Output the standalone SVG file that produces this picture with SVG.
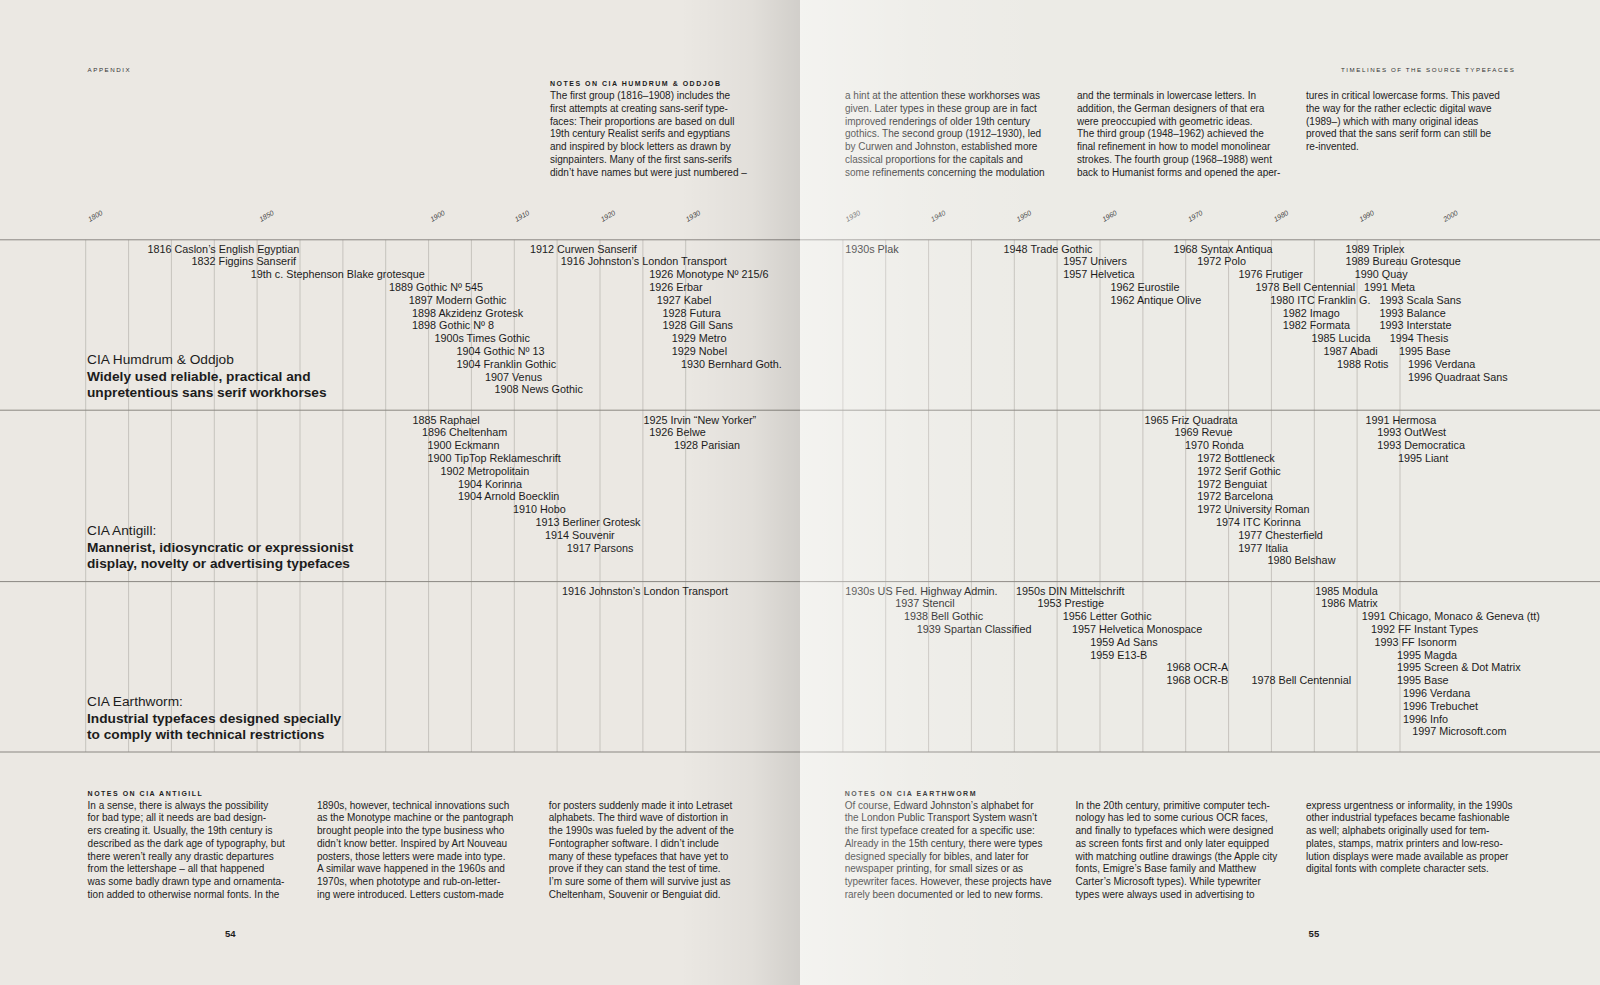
<svg xmlns="http://www.w3.org/2000/svg" width="1600" height="985" viewBox="0 0 1600 985">
<defs>
<linearGradient id="gutL" x1="0" y1="0" x2="1" y2="0"><stop offset="0" stop-color="#000" stop-opacity="0"/><stop offset="0.6" stop-color="#000" stop-opacity="0.04"/><stop offset="1" stop-color="#000" stop-opacity="0.11"/></linearGradient>
<linearGradient id="gutR" x1="0" y1="0" x2="1" y2="0"><stop offset="0" stop-color="#fff" stop-opacity="0.4"/><stop offset="0.5" stop-color="#fff" stop-opacity="0.15"/><stop offset="1" stop-color="#fff" stop-opacity="0"/></linearGradient>
<style>
text{font-family:"Liberation Sans",Arial,sans-serif;fill:#1c1c1c}
.e{font-size:10.8px}
.lab{font-size:13.7px}
.labb{font-size:13.7px;font-weight:bold}
.p{font-size:10px;fill:#222}
.h{font-size:7px;font-weight:bold;letter-spacing:1.5px}
.run{font-size:6.2px;letter-spacing:1.55px;fill:#333}
.yr{font-size:7px;font-style:italic;fill:#444}
.pg{font-size:9.5px;font-weight:bold}
.vg{stroke:#c6c3bd;stroke-width:1}
.hg{stroke:#8a8782;stroke-width:1}
</style>
</defs>
<g id="pages">
<rect x="0" y="0" width="800" height="985" fill="#ebe8e3"/>
<rect x="800" y="0" width="800" height="985" fill="#ecebe6"/>
</g>
<g id="running-heads">
<text class="run" x="87.6" y="72">APPENDIX</text>
<text class="run" x="1341" y="72">TIMELINES OF THE SOURCE TYPEFACES</text>
<text class="pg" x="225" y="936.5">54</text>
<text class="pg" x="1308.6" y="936.5">55</text>
</g>
<g id="notes-humdrum">
<text class="h" x="550" y="86.3">NOTES ON CIA HUMDRUM &amp; ODDJOB</text>
<text class="p" x="550" y="99">The first group (1816–1908) includes the</text>
<text class="p" x="550" y="111.8">first attempts at creating sans-serif type-</text>
<text class="p" x="550" y="124.6">faces: Their proportions are based on dull</text>
<text class="p" x="550" y="137.4">19th century Realist serifs and egyptians</text>
<text class="p" x="550" y="150.2">and inspired by block letters as drawn by</text>
<text class="p" x="550" y="163">signpainters. Many of the first sans-serifs</text>
<text class="p" x="550" y="175.8">didn’t have names but were just numbered –</text>
<text class="p" x="845" y="99">a hint at the attention these workhorses was</text>
<text class="p" x="845" y="111.8">given. Later types in these group are in fact</text>
<text class="p" x="845" y="124.6">improved renderings of older 19th century</text>
<text class="p" x="845" y="137.4">gothics. The second group (1912–1930), led</text>
<text class="p" x="845" y="150.2">by Curwen and Johnston, established more</text>
<text class="p" x="845" y="163">classical proportions for the capitals and</text>
<text class="p" x="845" y="175.8">some refinements concerning the modulation</text>
<text class="p" x="1077" y="99">and the terminals in lowercase letters. In</text>
<text class="p" x="1077" y="111.8">addition, the German designers of that era</text>
<text class="p" x="1077" y="124.6">were preoccupied with geometric ideas.</text>
<text class="p" x="1077" y="137.4">The third group (1948–1962) achieved the</text>
<text class="p" x="1077" y="150.2">final refinement in how to model monolinear</text>
<text class="p" x="1077" y="163">strokes. The fourth group (1968–1988) went</text>
<text class="p" x="1077" y="175.8">back to Humanist forms and opened the aper-</text>
<text class="p" x="1306" y="99">tures in critical lowercase forms. This paved</text>
<text class="p" x="1306" y="111.8">the way for the rather eclectic digital wave</text>
<text class="p" x="1306" y="124.6">(1989–) which with many original ideas</text>
<text class="p" x="1306" y="137.4">proved that the sans serif form can still be</text>
<text class="p" x="1306" y="150.2">re-invented.</text>
</g>
<g id="axis">
<text class="yr" transform="translate(89.7,222) rotate(-30)">1800</text>
<text class="yr" transform="translate(261,222) rotate(-30)">1850</text>
<text class="yr" transform="translate(432,222) rotate(-30)">1900</text>
<text class="yr" transform="translate(516.5,222) rotate(-30)">1910</text>
<text class="yr" transform="translate(602.5,222) rotate(-30)">1920</text>
<text class="yr" transform="translate(687.5,222) rotate(-30)">1930</text>
<text class="yr" transform="translate(847.3,222) rotate(-30)">1930</text>
<text class="yr" transform="translate(932.6,222) rotate(-30)">1940</text>
<text class="yr" transform="translate(1018.3,222) rotate(-30)">1950</text>
<text class="yr" transform="translate(1104,222) rotate(-30)">1960</text>
<text class="yr" transform="translate(1189.7,222) rotate(-30)">1970</text>
<text class="yr" transform="translate(1275.4,222) rotate(-30)">1980</text>
<text class="yr" transform="translate(1361.1,222) rotate(-30)">1990</text>
<text class="yr" transform="translate(1445,222) rotate(-30)">2000</text>
</g>
<g id="grid">
<g class="vg">
<line x1="85.7" y1="239.8" x2="85.7" y2="752"/>
<line x1="128.6" y1="239.8" x2="128.6" y2="752"/>
<line x1="171.4" y1="239.8" x2="171.4" y2="752"/>
<line x1="214.3" y1="239.8" x2="214.3" y2="752"/>
<line x1="257.1" y1="239.8" x2="257.1" y2="752"/>
<line x1="300" y1="239.8" x2="300" y2="752"/>
<line x1="342.9" y1="239.8" x2="342.9" y2="752"/>
<line x1="385.7" y1="239.8" x2="385.7" y2="752"/>
<line x1="428.6" y1="239.8" x2="428.6" y2="752"/>
<line x1="471.4" y1="239.8" x2="471.4" y2="752"/>
<line x1="514.3" y1="239.8" x2="514.3" y2="752"/>
<line x1="557.1" y1="239.8" x2="557.1" y2="752"/>
<line x1="600" y1="239.8" x2="600" y2="752"/>
<line x1="642.9" y1="239.8" x2="642.9" y2="752"/>
<line x1="685.7" y1="239.8" x2="685.7" y2="752"/>
<line x1="842.9" y1="239.8" x2="842.9" y2="752"/>
<line x1="885.7" y1="239.8" x2="885.7" y2="752"/>
<line x1="928.6" y1="239.8" x2="928.6" y2="752"/>
<line x1="971.4" y1="239.8" x2="971.4" y2="752"/>
<line x1="1014.3" y1="239.8" x2="1014.3" y2="752"/>
<line x1="1057.1" y1="239.8" x2="1057.1" y2="752"/>
<line x1="1100" y1="239.8" x2="1100" y2="752"/>
<line x1="1142.9" y1="239.8" x2="1142.9" y2="752"/>
<line x1="1185.7" y1="239.8" x2="1185.7" y2="752"/>
<line x1="1228.6" y1="239.8" x2="1228.6" y2="752"/>
<line x1="1271.4" y1="239.8" x2="1271.4" y2="752"/>
<line x1="1314.3" y1="239.8" x2="1314.3" y2="752"/>
<line x1="1357.1" y1="239.8" x2="1357.1" y2="752"/>
<line x1="1400" y1="239.8" x2="1400" y2="752"/>
</g>
<g class="hg">
<line x1="0" y1="239.8" x2="1600" y2="239.8"/>
<line x1="0" y1="410.2" x2="1600" y2="410.2"/>
<line x1="0" y1="581.6" x2="1600" y2="581.6"/>
<line x1="0" y1="752" x2="1600" y2="752"/>
</g>
</g>
<g id="row-humdrum">
<text class="lab" x="87" y="364">CIA Humdrum &amp; Oddjob</text>
<text class="labb" x="87" y="380.5">Widely used reliable, practical and</text>
<text class="labb" x="87" y="397">unpretentious sans serif workhorses</text>
<text class="e" x="147.5" y="252.5">1816 Caslon’s English Egyptian</text>
<text class="e" x="191.6" y="265.3">1832 Figgins Sanserif</text>
<text class="e" x="250.8" y="278.1">19th c. Stephenson Blake grotesque</text>
<text class="e" x="389" y="290.9">1889 Gothic Nº 545</text>
<text class="e" x="408.7" y="303.7">1897 Modern Gothic</text>
<text class="e" x="412" y="316.5">1898 Akzidenz Grotesk</text>
<text class="e" x="412" y="329.3">1898 Gothic Nº 8</text>
<text class="e" x="434.4" y="342.1">1900s Times Gothic</text>
<text class="e" x="456.5" y="354.9">1904 Gothic Nº 13</text>
<text class="e" x="456.5" y="367.7">1904 Franklin Gothic</text>
<text class="e" x="485" y="380.5">1907 Venus</text>
<text class="e" x="494.6" y="393.3">1908 News Gothic</text>
<text class="e" x="530" y="252.5">1912 Curwen Sanserif</text>
<text class="e" x="560.7" y="265.3">1916 Johnston’s London Transport</text>
<text class="e" x="649.3" y="278.1">1926 Monotype Nº 215/6</text>
<text class="e" x="649.3" y="290.9">1926 Erbar</text>
<text class="e" x="656.7" y="303.7">1927 Kabel</text>
<text class="e" x="662.6" y="316.5">1928 Futura</text>
<text class="e" x="662.6" y="329.3">1928 Gill Sans</text>
<text class="e" x="671.8" y="342.1">1929 Metro</text>
<text class="e" x="671.8" y="354.9">1929 Nobel</text>
<text class="e" x="681" y="367.7">1930 Bernhard Goth.</text>
<text class="e" x="845.2" y="252.5">1930s Plak</text>
<text class="e" x="1003.6" y="252.5">1948 Trade Gothic</text>
<text class="e" x="1063.2" y="265.3">1957 Univers</text>
<text class="e" x="1063.2" y="278.1">1957 Helvetica</text>
<text class="e" x="1110.5" y="290.9">1962 Eurostile</text>
<text class="e" x="1110.5" y="303.7">1962 Antique Olive</text>
<text class="e" x="1173.4" y="252.5">1968 Syntax Antiqua</text>
<text class="e" x="1197.3" y="265.3">1972 Polo</text>
<text class="e" x="1238.6" y="278.1">1976 Frutiger</text>
<text class="e" x="1255.6" y="290.9">1978 Bell Centennial</text>
<text class="e" x="1270.3" y="303.7">1980 ITC Franklin G.</text>
<text class="e" x="1282.7" y="316.5">1982 Imago</text>
<text class="e" x="1282.7" y="329.3">1982 Formata</text>
<text class="e" x="1311.6" y="342.1">1985 Lucida</text>
<text class="e" x="1323.6" y="354.9">1987 Abadi</text>
<text class="e" x="1336.9" y="367.7">1988 Rotis</text>
<text class="e" x="1345.6" y="252.5">1989 Triplex</text>
<text class="e" x="1345.6" y="265.3">1989 Bureau Grotesque</text>
<text class="e" x="1354.8" y="278.1">1990 Quay</text>
<text class="e" x="1364" y="290.9">1991 Meta</text>
<text class="e" x="1379.6" y="303.7">1993 Scala Sans</text>
<text class="e" x="1379.6" y="316.5">1993 Balance</text>
<text class="e" x="1379.6" y="329.3">1993 Interstate</text>
<text class="e" x="1389.7" y="342.1">1994 Thesis</text>
<text class="e" x="1398.9" y="354.9">1995 Base</text>
<text class="e" x="1408" y="367.7">1996 Verdana</text>
<text class="e" x="1408" y="380.5">1996 Quadraat Sans</text>
</g>
<g id="row-antigill">
<text class="lab" x="87" y="535">CIA Antigill:</text>
<text class="labb" x="87" y="551.5">Mannerist, idiosyncratic or expressionist</text>
<text class="labb" x="87" y="568">display, novelty or advertising typefaces</text>
<text class="e" x="412.4" y="423.5">1885 Raphael</text>
<text class="e" x="422" y="436.3">1896 Cheltenham</text>
<text class="e" x="427.6" y="449.1">1900 Eckmann</text>
<text class="e" x="427.6" y="461.9">1900 TipTop Reklameschrift</text>
<text class="e" x="440.4" y="474.7">1902 Metropolitain</text>
<text class="e" x="457.9" y="487.5">1904 Korinna</text>
<text class="e" x="457.9" y="500.3">1904 Arnold Boecklin</text>
<text class="e" x="513" y="513.1">1910 Hobo</text>
<text class="e" x="535.5" y="525.9">1913 Berliner Grotesk</text>
<text class="e" x="545" y="538.7">1914 Souvenir</text>
<text class="e" x="566.7" y="551.5">1917 Parsons</text>
<text class="e" x="643.4" y="423.5">1925 Irvin “New Yorker”</text>
<text class="e" x="649.3" y="436.3">1926 Belwe</text>
<text class="e" x="674" y="449.1">1928 Parisian</text>
<text class="e" x="1144.5" y="423.5">1965 Friz Quadrata</text>
<text class="e" x="1174.4" y="436.3">1969 Revue</text>
<text class="e" x="1184.9" y="449.1">1970 Ronda</text>
<text class="e" x="1197.3" y="461.9">1972 Bottleneck</text>
<text class="e" x="1197.3" y="474.7">1972 Serif Gothic</text>
<text class="e" x="1197.3" y="487.5">1972 Benguiat</text>
<text class="e" x="1197.3" y="500.3">1972 Barcelona</text>
<text class="e" x="1197.3" y="513.1">1972 University Roman</text>
<text class="e" x="1216.1" y="525.9">1974 ITC Korinna</text>
<text class="e" x="1238.2" y="538.7">1977 Chesterfield</text>
<text class="e" x="1238.2" y="551.5">1977 Italia</text>
<text class="e" x="1267.6" y="564.3">1980 Belshaw</text>
<text class="e" x="1365.4" y="423.5">1991 Hermosa</text>
<text class="e" x="1377.3" y="436.3">1993 OutWest</text>
<text class="e" x="1377.3" y="449.1">1993 Democratica</text>
<text class="e" x="1397.9" y="461.9">1995 Liant</text>
</g>
<g id="row-earthworm">
<text class="lab" x="87" y="706">CIA Earthworm:</text>
<text class="labb" x="87" y="722.5">Industrial typefaces designed specially</text>
<text class="labb" x="87" y="739">to comply with technical restrictions</text>
<text class="e" x="562" y="594.5">1916 Johnston’s London Transport</text>
<text class="e" x="845.2" y="594.5">1930s US Fed. Highway Admin.</text>
<text class="e" x="895.2" y="607.3">1937 Stencil</text>
<text class="e" x="903.9" y="620.1">1938 Bell Gothic</text>
<text class="e" x="916.8" y="632.9">1939 Spartan Classified</text>
<text class="e" x="1016" y="594.5">1950s DIN Mittelschrift</text>
<text class="e" x="1037.5" y="607.3">1953 Prestige</text>
<text class="e" x="1062.8" y="620.1">1956 Letter Gothic</text>
<text class="e" x="1072" y="632.9">1957 Helvetica Monospace</text>
<text class="e" x="1090.3" y="645.7">1959 Ad Sans</text>
<text class="e" x="1090.3" y="658.5">1959 E13-B</text>
<text class="e" x="1166.5" y="671.3">1968 OCR-A</text>
<text class="e" x="1166.5" y="684.1">1968 OCR-B</text>
<text class="e" x="1251.5" y="684.1">1978 Bell Centennial</text>
<text class="e" x="1315.3" y="594.5">1985 Modula</text>
<text class="e" x="1321.3" y="607.3">1986 Matrix</text>
<text class="e" x="1361.7" y="620.1">1991 Chicago, Monaco &amp; Geneva (tt)</text>
<text class="e" x="1370.9" y="632.9">1992 FF Instant Types</text>
<text class="e" x="1374.5" y="645.7">1993 FF Isonorm</text>
<text class="e" x="1397" y="658.5">1995 Magda</text>
<text class="e" x="1397" y="671.3">1995 Screen &amp; Dot Matrix</text>
<text class="e" x="1397" y="684.1">1995 Base</text>
<text class="e" x="1403" y="696.9">1996 Verdana</text>
<text class="e" x="1403" y="709.7">1996 Trebuchet</text>
<text class="e" x="1403" y="722.5">1996 Info</text>
<text class="e" x="1412.2" y="735.3">1997 Microsoft.com</text>
</g>
<g id="notes-antigill">
<text class="h" x="87.6" y="796.4">NOTES ON CIA ANTIGILL</text>
<text class="p" x="87.6" y="808.5">In a sense, there is always the possibility</text>
<text class="p" x="87.6" y="821.3">for bad type; all it needs are bad design-</text>
<text class="p" x="87.6" y="834">ers creating it. Usually, the 19th century is</text>
<text class="p" x="87.6" y="846.8">described as the dark age of typography, but</text>
<text class="p" x="87.6" y="859.5">there weren’t really any drastic departures</text>
<text class="p" x="87.6" y="872.3">from the lettershape – all that happened</text>
<text class="p" x="87.6" y="885">was some badly drawn type and ornamenta-</text>
<text class="p" x="87.6" y="897.8">tion added to otherwise normal fonts. In the</text>
<text class="p" x="317" y="808.5">1890s, however, technical innovations such</text>
<text class="p" x="317" y="821.3">as the Monotype machine or the pantograph</text>
<text class="p" x="317" y="834">brought people into the type business who</text>
<text class="p" x="317" y="846.8">didn’t know better. Inspired by Art Nouveau</text>
<text class="p" x="317" y="859.5">posters, those letters were made into type.</text>
<text class="p" x="317" y="872.3">A similar wave happened in the 1960s and</text>
<text class="p" x="317" y="885">1970s, when phototype and rub-on-letter-</text>
<text class="p" x="317" y="897.8">ing were introduced. Letters custom-made</text>
<text class="p" x="548.8" y="808.5">for posters suddenly made it into Letraset</text>
<text class="p" x="548.8" y="821.3">alphabets. The third wave of distortion in</text>
<text class="p" x="548.8" y="834">the 1990s was fueled by the advent of the</text>
<text class="p" x="548.8" y="846.8">Fontographer software. I didn’t include</text>
<text class="p" x="548.8" y="859.5">many of these typefaces that have yet to</text>
<text class="p" x="548.8" y="872.3">prove if they can stand the test of time.</text>
<text class="p" x="548.8" y="885">I’m sure some of them will survive just as</text>
<text class="p" x="548.8" y="897.8">Cheltenham, Souvenir or Benguiat did.</text>
</g>
<g id="notes-earthworm">
<text class="h" x="844.7" y="796.4">NOTES ON CIA EARTHWORM</text>
<text class="p" x="844.7" y="808.5">Of course, Edward Johnston’s alphabet for</text>
<text class="p" x="844.7" y="821.3">the London Public Transport System wasn’t</text>
<text class="p" x="844.7" y="834">the first typeface created for a specific use:</text>
<text class="p" x="844.7" y="846.8">Already in the 15th century, there were types</text>
<text class="p" x="844.7" y="859.5">designed specially for bibles, and later for</text>
<text class="p" x="844.7" y="872.3">newspaper printing, for small sizes or as</text>
<text class="p" x="844.7" y="885">typewriter faces. However, these projects have</text>
<text class="p" x="844.7" y="897.8">rarely been documented or led to new forms.</text>
<text class="p" x="1075.5" y="808.5">In the 20th century, primitive computer tech-</text>
<text class="p" x="1075.5" y="821.3">nology has led to some curious OCR faces,</text>
<text class="p" x="1075.5" y="834">and finally to typefaces which were designed</text>
<text class="p" x="1075.5" y="846.8">as screen fonts first and only later equipped</text>
<text class="p" x="1075.5" y="859.5">with matching outline drawings (the Apple city</text>
<text class="p" x="1075.5" y="872.3">fonts, Emigre’s Base family and Matthew</text>
<text class="p" x="1075.5" y="885">Carter’s Microsoft types). While typewriter</text>
<text class="p" x="1075.5" y="897.8">types were always used in advertising to</text>
<text class="p" x="1306" y="808.5">express urgentness or informality, in the 1990s</text>
<text class="p" x="1306" y="821.3">other industrial typefaces became fashionable</text>
<text class="p" x="1306" y="834">as well; alphabets originally used for tem-</text>
<text class="p" x="1306" y="846.8">plates, stamps, matrix printers and low-reso-</text>
<text class="p" x="1306" y="859.5">lution displays were made available as proper</text>
<text class="p" x="1306" y="872.3">digital fonts with complete character sets.</text>
</g>
<g id="gutter-light">
<rect x="680" y="0" width="120" height="985" fill="url(#gutL)"/>
<rect x="800" y="0" width="240" height="985" fill="url(#gutR)"/>
</g>
</svg>
